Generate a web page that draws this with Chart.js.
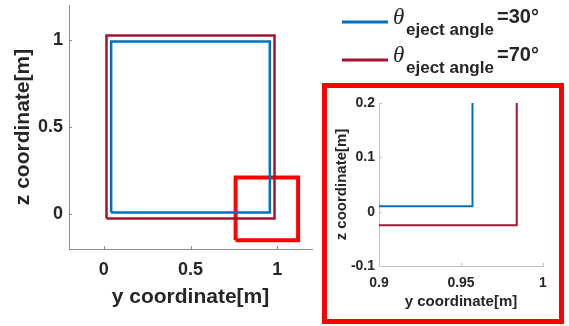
<!DOCTYPE html>
<html>
<head>
<meta charset="utf-8">
<script src="https://cdn.jsdelivr.net/npm/chart.js@4/dist/chart.umd.min.js"></script>
<style>
  body { margin: 0; background: #fff; }
  #wrap { position: relative; width: 569px; height: 326px; overflow: hidden; }
  #main { position: absolute; left: 0; top: 0; }
  #zoomFrame { position: absolute; left: 322px; top: 83px; width: 232px; height: 231px; border: 5px solid #ff0000; }
  #inset { position: absolute; left: 0; top: 0; }
</style>
</head>
<body>
<div id="wrap">
  <canvas id="main" width="569" height="326"></canvas>
  <div id="zoomFrame"><canvas id="inset" width="232" height="231"></canvas></div>
</div>
<script>
// eject angles of the two runs
const ejectAngles = [30, 70];

// outline of the blue run (y, z in metres)
const blueY = [0.043, 0.957, 0.957, 0.043, 0.043];
const blueZ = [0.01, 0.01, 0.99, 0.99, 0.01];

// outline of the red run
const redY = [0.016, 0.984, 0.984, 0.016, 0.016];
const redZ = [-0.025, -0.025, 1.025, 1.025, -0.025];

// zoomed corner marker
const boxY = [0.76, 1.12, 1.12, 0.76, 0.76];
const boxZ = [-0.15, -0.15, 0.21, 0.21, -0.15];

// tick labels
const mainTicks = [0, 0.5, 1];
const insetYTicks = [0.9, 0.95, 1];
const insetZTicks = [-0.1, 0, 0.1, 0.2];

const textColor = '#262626';
const sans = '"Liberation Sans", Arial, sans-serif';
const blue = '#0072bd';
const red = '#a2142f';

function pts(xs, ys) {
  return xs.map((x, i) => ({ x: x, y: ys[i] }));
}

function runSets(width) {
  return [
    { data: pts(blueY, blueZ), borderColor: blue, borderWidth: width },
    { data: pts(redY, redZ), borderColor: red, borderWidth: width }
  ].map(d => Object.assign(d, { showLine: true, pointRadius: 0, borderJoinStyle: 'miter', tension: 0 }));
}

function fixTicks(list) {
  return scale => { scale.ticks = list.map(v => ({ value: v })); };
}

// fixed axis size, no extra room for edge labels
function fitTo(prop, size) {
  return scale => {
    scale[prop] = size;
    scale.paddingTop = scale.paddingBottom = scale.paddingLeft = scale.paddingRight = 0;
  };
}

// short inward tick marks like the original plot
const innerTicks = {
  id: 'innerTicks',
  afterDraw(chart, args, opts) {
    const { ctx, scales: { x, y }, chartArea: a } = chart;
    ctx.save();
    ctx.strokeStyle = opts.color;
    ctx.lineWidth = 1;
    ctx.beginPath();
    x.ticks.forEach(t => {
      const px = Math.round(x.getPixelForValue(t.value)) + 0.5;
      ctx.moveTo(px, a.bottom); ctx.lineTo(px, a.bottom - 3);
    });
    y.ticks.forEach(t => {
      const py = Math.round(y.getPixelForValue(t.value)) + 0.5;
      ctx.moveTo(a.left, py); ctx.lineTo(a.left + 3, py);
    });
    ctx.stroke();
    ctx.restore();
  }
};

// legend with subscript text
const thetaLegend = {
  id: 'thetaLegend',
  afterDraw(chart) {
    const ctx = chart.ctx;
    ejectAngles.forEach((a, i) => {
      const ds = chart.data.datasets[i];
      const y = 22 + i * 38;
      ctx.save();
      ctx.strokeStyle = ds.borderColor;
      ctx.lineWidth = 3;
      ctx.beginPath(); ctx.moveTo(342, y); ctx.lineTo(388, y); ctx.stroke();
      ctx.fillStyle = textColor;
      ctx.textBaseline = 'alphabetic';
      ctx.font = 'italic 23px "Liberation Serif", serif';
      ctx.fillText('\u03b8', 393, y + 2);
      ctx.font = 'bold 17px ' + sans;
      ctx.fillText('eject angle', 406, y + 13);
      ctx.font = 'bold 20px ' + sans;
      ctx.fillText('=' + a + '\u00b0', 497, y + 1);
      ctx.restore();
    });
  }
};

function axis(opts) {
  return {
    type: 'linear',
    min: opts.min, max: opts.max,
    afterBuildTicks: fixTicks(opts.ticks),
    afterFit: opts.fit,
    grid: { display: false, drawTicks: false },
    border: { color: opts.axisColor, width: 1 },
    ticks: { padding: opts.pad, color: textColor, font: { family: sans, size: opts.tickSize, weight: 'bold' },
             callback: v => String(v) },
    title: { display: true, text: opts.title, color: textColor, padding: opts.titlePad,
             font: { family: sans, size: opts.titleSize, weight: 'bold' } }
  };
}

const mainSets = runSets(2.5);
mainSets.push({ data: pts(boxY, boxZ), borderColor: '#ff0000', borderWidth: 4, showLine: true,
                pointRadius: 0, borderJoinStyle: 'miter', tension: 0 });

new Chart(document.getElementById('main'), {
  type: 'scatter',
  data: { datasets: mainSets },
  options: {
    responsive: false, animation: false, devicePixelRatio: 1,
    layout: { padding: { left: 0, right: 257, top: 5, bottom: 0 } },
    plugins: { legend: { display: false }, tooltip: { enabled: false }, innerTicks: { color: '#8c8c8c' } },
    scales: {
      x: axis({ min: -0.2, max: 1.2, ticks: mainTicks, fit: fitTo('height', 77), axisColor: '#8c8c8c',
                pad: 10, tickSize: 18, title: 'y coordinate[m]', titleSize: 21, titlePad: { top: 0, bottom: 16 } }),
      y: axis({ min: -0.2, max: 1.2, ticks: mainTicks, fit: fitTo('width', 69), axisColor: '#8c8c8c',
                pad: 6, tickSize: 18, title: 'z coordinate[m]', titleSize: 21, titlePad: { top: 11, bottom: 0 } })
    }
  },
  plugins: [innerTicks, thetaLegend]
});

new Chart(document.getElementById('inset'), {
  type: 'scatter',
  data: { datasets: runSets(2) },
  options: {
    responsive: false, animation: false, devicePixelRatio: 1,
    layout: { padding: { left: 0, right: 16, top: 15, bottom: 0 } },
    plugins: { legend: { display: false }, tooltip: { enabled: false }, innerTicks: { color: '#c0c0c0' } },
    scales: {
      x: axis({ min: 0.9, max: 1, ticks: insetYTicks, fit: fitTo('height', 53), axisColor: '#c0c0c0',
                pad: 9, tickSize: 14, title: 'y coordinate[m]', titleSize: 15, titlePad: { top: 0, bottom: 8 } }),
      y: axis({ min: -0.1, max: 0.2, ticks: insetZTicks, fit: fitTo('width', 52), axisColor: '#c0c0c0',
                pad: 4, tickSize: 14, title: 'z coordinate[m]', titleSize: 15, titlePad: { top: 6, bottom: 0 } })
    }
  },
  plugins: [innerTicks]
});
</script>
</body>
</html>
